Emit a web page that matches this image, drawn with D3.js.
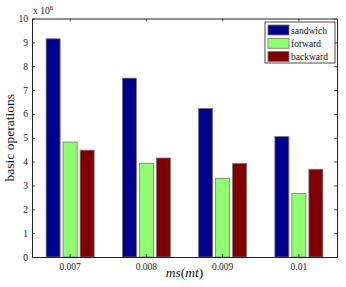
<!DOCTYPE html>
<html><head><meta charset="utf-8">
<script src="https://cdn.jsdelivr.net/npm/d3@7"></script>
<style>body{margin:0;background:#fff}svg{display:block}text{font-family:"Liberation Serif","Times New Roman",serif}</style>
</head><body><svg id="c" width="346" height="287"></svg>
<script>
const categories = ["0.007","0.008","0.009","0.01"];
const seriesNames = ["sandwich","forward","backward"];
const sandwich = [9.15, 7.50, 6.23, 5.05];
const forward = [4.82, 3.93, 3.30, 2.66];
const backward = [4.48, 4.15, 3.92, 3.68];
const yTicks = [0,1,2,3,4,5,6,7,8,9,10];
const colors = ["#00008f","#8fff6f","#800000"];

const svg = d3.select("#c");
const L=32, R=337, T=18.5, B=257;
const x = d3.scaleBand().domain(categories).range([L,R]).paddingInner(0).paddingOuter(0);
const y = d3.scaleLinear().domain([0,10]).range([B,T]);
const series = [sandwich, forward, backward];
const step = 17, bw = 14;

svg.append("rect").attr("x",L).attr("y",T).attr("width",R-L).attr("height",B-T).attr("fill","#fff");

series.forEach((s,si)=>{
  svg.append("g").selectAll("rect").data(s).join("rect")
    .attr("x",(d,i)=>x(categories[i])+x.bandwidth()/2+(si-1)*step-bw/2)
    .attr("y",d=>y(d)).attr("width",bw).attr("height",d=>B-y(d))
    .attr("fill",colors[si]).attr("stroke","#777").attr("stroke-width",0.8);
});

// axes
const ax = svg.append("g").attr("transform",`translate(0,${B})`)
  .call(d3.axisBottom(x).tickSizeInner(-3).tickSizeOuter(0).tickPadding(6));
const ay = svg.append("g").attr("transform",`translate(${L},0)`)
  .call(d3.axisLeft(y).tickValues(yTicks).tickSizeInner(-3).tickSizeOuter(0).tickPadding(4));
const at = svg.append("g").attr("transform",`translate(0,${T})`)
  .call(d3.axisTop(x).tickSizeInner(-3).tickSizeOuter(0).tickFormat(""));
const ar = svg.append("g").attr("transform",`translate(${R},0)`)
  .call(d3.axisRight(y).tickValues(yTicks).tickSizeInner(-3).tickSizeOuter(0).tickFormat(""));
[ax,ay,at,ar].forEach(g=>{
  g.selectAll("path").attr("stroke","#222").attr("stroke-width",1);
  g.selectAll("line").attr("stroke","#222").attr("stroke-width",0.8);
  g.selectAll("text").attr("font-family","Liberation Serif, serif").attr("font-size",9.5).attr("fill","#222");
});

// exponent
const ex = svg.append("text").attr("x",33).attr("y",14).attr("font-size",9.5).attr("fill","#222");
ex.append("tspan").text("x 10");
ex.append("tspan").attr("dy",-4).attr("font-size",7).text("6");

// labels
svg.append("text").attr("transform",`translate(14,${(T+B)/2}) rotate(-90)`)
  .attr("text-anchor","middle").attr("font-size",13.5).attr("fill","#111").text("basic operations");
const xl = svg.append("text").attr("x",(L+R)/2).attr("y",277).attr("text-anchor","middle")
  .attr("font-size",13.5).attr("fill","#111");
xl.append("tspan").attr("font-style","italic").text("ms");
xl.append("tspan").text("(");
xl.append("tspan").attr("font-style","italic").text("mt");
xl.append("tspan").text(")");

// legend
const lg = svg.append("g");
lg.append("rect").attr("x",265).attr("y",22).attr("width",70).attr("height",41)
  .attr("fill","#fff").attr("stroke","#222").attr("stroke-width",0.8);
seriesNames.forEach((n,i)=>{
  const yy = 30 + i*13.3;
  lg.append("rect").attr("x",268).attr("y",yy-5).attr("width",21).attr("height",10)
    .attr("fill",colors[i]).attr("stroke","#777").attr("stroke-width",0.8);
  lg.append("text").attr("x",291).attr("y",yy+3.5).attr("font-size",9.5).attr("fill","#111").text(n);
});
</script></body></html>
